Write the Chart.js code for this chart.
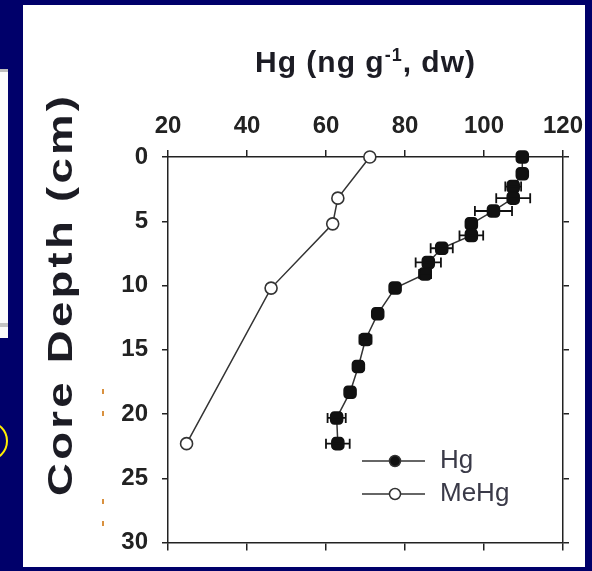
<!DOCTYPE html>
<html>
<head>
<meta charset="utf-8">
<script src="https://cdn.jsdelivr.net/npm/chart.js@4/dist/chart.umd.min.js"></script>
<style>
  html, body { margin: 0; padding: 0; background: #00006a; }
  body { width: 592px; height: 571px; position: relative; overflow: hidden; }
  .panel { position: absolute; left: 23px; top: 5px; width: 562px; height: 562px; background: #fff; }
  .strip { position: absolute; left: 0; top: 69px; width: 8px; height: 266px; background: #fbfbfb; border-top: 3px solid #bdbdbd; }
  .strip-line { position: absolute; left: 0; top: 323px; width: 8px; height: 4px; background: #c4c4c4; }
  .ring { position: absolute; left: -32px; top: 421px; width: 36px; height: 36px; border: 2.5px solid #ffee00; border-radius: 50%; }
  .dot { position: absolute; left: 102px; width: 2px; height: 5px; background: #d9913f; }
  canvas { position: absolute; left: 0; top: 0; }
</style>
</head>
<body>
<div class="panel"></div>
<div class="strip"></div>
<div class="strip-line"></div>
<div class="ring"></div>
<div class="dot" style="top:389px"></div>
<div class="dot" style="top:411px"></div>
<div class="dot" style="top:499px"></div>
<div class="dot" style="top:521px"></div>
<canvas id="coreChart" width="592" height="571"></canvas>
<script>
// values
const hgDepth = [0, 1.3, 2.3, 3.2, 4.2, 5.2, 6.1, 7.1, 8.2, 9.1, 10.2, 12.2, 14.2, 16.3, 18.3, 20.3, 22.3];
const hgValues = [109.7, 109.7, 107.4, 107.4, 102.4, 96.8, 96.8, 89.3, 85.9, 85.1, 77.5, 73.1, 70.0, 68.2, 66.1, 62.7, 63.0];
const hgErrors = [0, 0, 2, 4.3, 4.7, 0, 3, 2.8, 3.2, 1.5, 0, 0, 1.5, 0, 0, 2.3, 3];

const meHgDepth = [0, 3.2, 5.2, 10.2, 22.3];
const meHgValues = [71.1, 63.0, 61.7, 46.1, 24.7];

const seriesNames = ["Hg", "MeHg"];
const xTicks = [20, 40, 60, 80, 100, 120];
const yTicks = [0, 5, 10, 15, 20, 25, 30];
const xTitle = ["Hg (ng g", "-1", ", dw)"];
const yTitle = "Core Depth (cm)";

const axisColor = "#222";
const tickFont = { family: "Liberation Sans", size: 24, weight: "bold" };

function toPoints(xs, ys) {
  return xs.map((v, i) => ({ x: v, y: ys[i] }));
}

function fixedTicks(list) {
  return function (scale) {
    scale.ticks = list.map(v => ({ value: v }));
  };
}

const errorBarPlugin = {
  id: "errorBars",
  afterDatasetsDraw(chart) {
    const { ctx, scales } = chart;
    ctx.save();
    ctx.strokeStyle = "#111";
    ctx.lineWidth = 1.8;
    hgValues.forEach((v, i) => {
      const e = hgErrors[i];
      if (!e) return;
      const y = scales.y.getPixelForValue(hgDepth[i]);
      const x0 = scales.x.getPixelForValue(v - e);
      const x1 = scales.x.getPixelForValue(v + e);
      ctx.beginPath();
      ctx.moveTo(x0, y);
      ctx.lineTo(x1, y);
      ctx.moveTo(x0, y - 5);
      ctx.lineTo(x0, y + 5);
      ctx.moveTo(x1, y - 5);
      ctx.lineTo(x1, y + 5);
      ctx.stroke();
    });
    ctx.restore();
  }
};

const titlesPlugin = {
  id: "titles",
  afterDraw(chart) {
    const { ctx, chartArea } = chart;
    ctx.save();
    ctx.fillStyle = "#1c1c24";
    ctx.textBaseline = "alphabetic";
    ctx.textAlign = "left";

    // top title with superscript
    const big = "bold 30px 'Liberation Sans'";
    const small = "bold 18px 'Liberation Sans'";
    ctx.letterSpacing = "1px";
    ctx.font = big;
    const w0 = ctx.measureText(xTitle[0]).width;
    const w2 = ctx.measureText(xTitle[2]).width;
    ctx.font = small;
    const w1 = ctx.measureText(xTitle[1]).width;
    let x = (chartArea.left + chartArea.right) / 2 - (w0 + w1 + w2) / 2;
    const base = 72;
    ctx.font = big;
    ctx.fillText(xTitle[0], x, base);
    x += w0;
    ctx.font = small;
    ctx.fillText(xTitle[1], x, base - 11);
    x += w1;
    ctx.font = big;
    ctx.fillText(xTitle[2], x, base);

    // rotated y title, stretched to the length in the figure
    const stretch = 1.3;
    ctx.translate(72, 296);
    ctx.rotate(-Math.PI / 2);
    ctx.scale(stretch, 1);
    ctx.font = "bold 35px 'Liberation Sans'";
    ctx.letterSpacing = "0px";
    const natural = ctx.measureText(yTitle).width;
    const gap = Math.max(0, (400 / stretch - natural) / (yTitle.length - 1));
    ctx.letterSpacing = gap + "px";
    ctx.textAlign = "center";
    ctx.fillText(yTitle, gap / 2, 0);
    ctx.restore();
  }
};

const legendPlugin = {
  id: "insideLegend",
  afterDraw(chart) {
    const { ctx } = chart;
    const rows = [461, 494];
    ctx.save();
    rows.forEach((y, i) => {
      ctx.strokeStyle = "#333";
      ctx.lineWidth = 1.5;
      ctx.beginPath();
      ctx.moveTo(362, y);
      ctx.lineTo(425, y);
      ctx.stroke();
      ctx.beginPath();
      ctx.arc(395, y, 5.5, 0, Math.PI * 2);
      ctx.fillStyle = i === 0 ? "#111" : "#fff";
      ctx.fill();
      ctx.stroke();
      ctx.fillStyle = "#3a3a48";
      ctx.font = "26px 'Liberation Sans'";
      ctx.textBaseline = "middle";
      ctx.fillText(seriesNames[i], 440, y);
    });
    ctx.restore();
  }
};

const ctx = document.getElementById("coreChart").getContext("2d");

new Chart(ctx, {
  type: "scatter",
  data: {
    datasets: [
      {
        label: seriesNames[0],
        data: toPoints(hgValues, hgDepth),
        showLine: true,
        borderColor: "#333",
        borderWidth: 1.5,
        pointStyle: "rectRounded",
        pointRadius: 7,
        pointBackgroundColor: "#111",
        pointBorderColor: "#111",
        clip: false
      },
      {
        label: seriesNames[1],
        data: toPoints(meHgValues, meHgDepth),
        showLine: true,
        borderColor: "#333",
        borderWidth: 1.5,
        pointRadius: 6,
        pointBackgroundColor: "#fff",
        pointBorderColor: "#333",
        pointBorderWidth: 1.6,
        clip: false
      }
    ]
  },
  options: {
    responsive: false,
    devicePixelRatio: 1,
    animation: false,
    layout: { padding: 0 },
    plugins: {
      legend: { display: false },
      tooltip: { enabled: false }
    },
    scales: {
      x: {
        type: "linear",
        position: "top",
        min: 20,
        max: 120,
        afterBuildTicks: fixedTicks(xTicks),
        ticks: { font: tickFont, color: axisColor, padding: 9, maxRotation: 0 },
        grid: { drawOnChartArea: false, tickLength: 7, color: axisColor, lineWidth: 1.5 },
        border: { color: axisColor, width: 1.5 },
        afterFit: s => { s.height = 157; }
      },
      x2: {
        type: "linear",
        position: "bottom",
        min: 20,
        max: 120,
        afterBuildTicks: fixedTicks(xTicks),
        ticks: { display: false },
        grid: { drawOnChartArea: false, tickLength: 8, color: axisColor, lineWidth: 1.5 },
        border: { color: axisColor, width: 1.5 },
        afterFit: s => { s.height = 21; }
      },
      y: {
        type: "linear",
        position: "left",
        min: 0,
        max: 30,
        reverse: true,
        afterBuildTicks: fixedTicks(yTicks),
        ticks: { font: tickFont, color: axisColor, padding: 14 },
        grid: { drawOnChartArea: false, tickLength: 6, color: axisColor, lineWidth: 1.5 },
        border: { color: axisColor, width: 1.5 },
        afterFit: s => { s.width = 168; }
      },
      y2: {
        type: "linear",
        position: "right",
        min: 0,
        max: 30,
        reverse: true,
        afterBuildTicks: fixedTicks(yTicks),
        ticks: { display: false },
        grid: { drawOnChartArea: false, tickLength: 6, color: axisColor, lineWidth: 1.5 },
        border: { color: axisColor, width: 1.5 },
        afterFit: s => { s.width = 29; }
      }
    }
  },
  plugins: [errorBarPlugin, titlesPlugin, legendPlugin]
});
</script>
</body>
</html>
